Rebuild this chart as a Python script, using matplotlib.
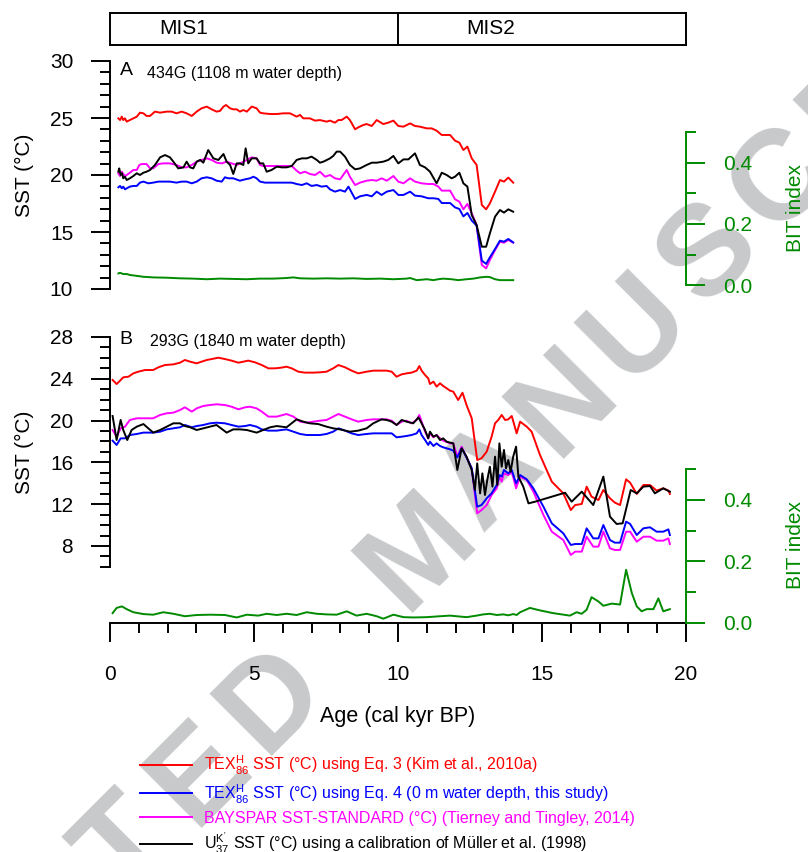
import numpy as np
import matplotlib
matplotlib.use('Agg')
import matplotlib.pyplot as plt
from matplotlib.ticker import MultipleLocator, FixedLocator, NullLocator

plt.rcParams['font.family'] = ['Liberation Sans', 'DejaVu Sans']
plt.rcParams['mathtext.fontset'] = 'custom'
plt.rcParams['mathtext.rm'] = 'Liberation Sans'
plt.rcParams['mathtext.it'] = 'Liberation Sans:italic'
plt.rcParams['mathtext.bf'] = 'Liberation Sans:bold'

# ---------------- data: core 434G (panel A) ----------------
age_a_red = [0.29, 0.35, 0.41, 0.46, 0.52, 0.58, 0.69, 0.81, 0.93, 1.04,
             1.16, 1.27, 1.39, 1.56, 1.74, 1.97, 2.14, 2.31, 2.49, 2.66,
             2.84, 3.01, 3.18, 3.36, 3.53, 3.70, 3.82, 3.94, 4.03, 4.17,
             4.28, 4.40, 4.51, 4.63, 4.75, 4.92, 5.09, 5.21, 5.32, 5.56,
             5.79, 6.02, 6.25, 6.48, 6.60, 6.71, 6.94, 7.12, 7.29, 7.52,
             7.64, 7.81, 7.93, 8.04, 8.22, 8.33, 8.51, 8.62, 8.80, 8.91,
             9.09, 9.26, 9.49, 9.66, 9.84, 10.01, 10.19, 10.42, 10.59, 10.76,
             11.0, 11.17, 11.34, 11.52, 11.69, 11.81, 11.98, 12.13, 12.27, 12.41,
             12.56, 12.73, 12.91, 13.06, 13.19, 13.37, 13.54, 13.68, 13.83, 14.0]
sst_a_red = [24.97, 24.82, 25.12, 24.82, 24.97, 24.68, 24.82, 24.97, 25.12, 25.47,
             25.41, 25.18, 25.18, 25.56, 25.47, 25.56, 25.56, 25.41, 25.56, 25.41,
             25.18, 25.56, 25.85, 26.0, 25.76, 25.56, 25.62, 26.0, 26.14, 25.85,
             25.76, 25.76, 25.56, 25.70, 25.56, 26.0, 25.85, 25.47, 25.41, 25.35,
             25.35, 25.41, 25.41, 25.12, 25.27, 24.97, 24.97, 24.77, 24.82, 24.68,
             24.77, 24.59, 24.82, 24.82, 25.12, 24.82, 24.01, 24.18, 24.39, 24.47,
             24.30, 24.82, 24.47, 24.59, 24.77, 24.30, 24.24, 24.53, 24.30, 24.24,
             24.09, 24.09, 23.89, 23.51, 23.51, 23.51, 23.01, 22.84, 22.19, 22.49,
             21.46, 20.88, 17.37, 16.99, 17.51, 18.54, 19.56, 19.42, 19.77, 19.33]

age_a_blue = [0.29, 0.35, 0.41, 0.46, 0.52, 0.58, 0.69, 0.81, 0.93, 1.04,
              1.16, 1.33, 1.50, 1.68, 1.85, 2.08, 2.31, 2.49, 2.66, 2.84,
              3.01, 3.18, 3.36, 3.53, 3.70, 3.88, 3.99, 4.11, 4.28, 4.51,
              4.69, 4.86, 4.98, 5.09, 5.21, 5.38, 5.56, 5.79, 6.13, 6.31,
              6.48, 6.66, 6.83, 7.0, 7.18, 7.35, 7.52, 7.64, 7.81, 7.99,
              8.16, 8.28, 8.51, 8.68, 8.91, 9.09, 9.26, 9.43, 9.61, 9.84,
              10.01, 10.19, 10.42, 10.59, 10.82, 11.05, 11.23, 11.40, 11.52, 11.69,
              11.81, 11.98, 12.13, 12.27, 12.41, 12.56, 12.73, 12.91, 13.06, 13.19,
              13.37, 13.54, 13.68, 13.83, 14.0]
sst_a_blue = [18.92, 19.04, 18.83, 18.98, 18.74, 18.83, 18.98, 19.04, 19.04, 19.33,
              19.42, 19.27, 19.33, 19.42, 19.42, 19.42, 19.33, 19.42, 19.42, 19.27,
              19.42, 19.71, 19.80, 19.71, 19.50, 19.42, 19.80, 19.71, 19.71, 19.50,
              19.62, 19.71, 19.85, 19.71, 19.42, 19.33, 19.33, 19.33, 19.33, 19.33,
              19.21, 19.12, 19.27, 19.04, 19.12, 18.98, 19.04, 18.74, 18.54, 18.68,
              18.54, 18.98, 17.90, 18.13, 18.25, 18.13, 18.54, 18.25, 18.54, 18.68,
              18.25, 18.25, 18.54, 18.19, 18.13, 17.96, 17.96, 17.90, 17.54, 17.54,
              17.54, 17.16, 17.02, 16.37, 16.67, 16.0, 15.56, 12.49, 12.20, 12.78,
              13.51, 14.24, 14.15, 14.39, 14.09]

age_a_mag = [0.29, 0.35, 0.41, 0.46, 0.52, 0.58, 0.69, 0.81, 0.93, 1.02,
             1.10, 1.27, 1.39, 1.50, 1.68, 1.85, 2.08, 2.31, 2.49, 2.66,
             2.84, 3.01, 3.18, 3.36, 3.53, 3.70, 3.88, 4.05, 4.22, 4.40,
             4.57, 4.75, 4.92, 5.09, 5.21, 5.32, 5.56, 5.79, 6.02, 6.31,
             6.48, 6.60, 6.77, 6.94, 7.12, 7.29, 7.47, 7.64, 7.81, 7.99,
             8.22, 8.33, 8.51, 8.68, 8.91, 9.09, 9.26, 9.43, 9.61, 9.84,
             10.01, 10.19, 10.42, 10.59, 10.82, 11.05, 11.23, 11.40, 11.52, 11.69,
             11.81, 11.98, 12.13, 12.27, 12.41, 12.56, 12.73, 12.91, 13.06, 13.19,
             13.37, 13.54, 13.68, 13.83, 14.0]
sst_a_mag = [20.15, 19.91, 20.29, 20.09, 19.91, 20.0, 20.20, 20.44, 20.44, 20.88,
             20.96, 20.96, 20.58, 20.58, 20.96, 21.02, 21.02, 20.88, 20.67, 20.67,
             20.88, 21.17, 21.32, 21.46, 21.32, 21.08, 21.02, 21.17, 21.02, 20.88,
             21.08, 21.32, 21.55, 21.46, 20.88, 20.79, 20.79, 20.79, 20.79, 20.79,
             20.38, 20.15, 20.29, 20.09, 20.0, 20.29, 19.85, 20.0, 19.71, 19.62,
             20.44, 19.85, 19.12, 19.33, 19.50, 19.56, 19.50, 19.71, 19.50, 19.91,
             19.42, 19.27, 19.71, 19.42, 19.27, 19.21, 19.21, 18.98, 18.63, 18.63,
             18.63, 17.87, 17.66, 16.99, 17.46, 16.64, 15.61, 12.11, 11.81, 12.54,
             13.42, 14.15, 14.06, 14.30, 14.06]

age_a_blk = [0.29, 0.32, 0.37, 0.42, 0.46, 0.52, 0.58, 0.69, 0.81, 0.93,
             1.04, 1.16, 1.27, 1.39, 1.56, 1.74, 1.91, 2.08, 2.20, 2.37,
             2.55, 2.66, 2.78, 2.89, 3.01, 3.13, 3.24, 3.41, 3.59, 3.76,
             3.94, 4.05, 4.17, 4.28, 4.40, 4.51, 4.63, 4.71, 4.80, 4.92,
             5.09, 5.21, 5.32, 5.44, 5.61, 5.79, 5.96, 6.13, 6.31, 6.48,
             6.66, 6.83, 7.0, 7.18, 7.29, 7.41, 7.64, 7.75, 7.87, 7.99,
             8.16, 8.33, 8.51, 8.68, 8.91, 9.09, 9.26, 9.49, 9.66, 9.84,
             10.01, 10.19, 10.36, 10.59, 10.76, 10.94, 11.11, 11.34, 11.52, 11.69,
             11.86, 11.98, 12.13, 12.27, 12.41, 12.56, 12.73, 12.91, 13.06, 13.19,
             13.37, 13.54, 13.68, 13.83, 14.0]
sst_a_blk = [20.29, 20.58, 20.0, 20.15, 19.71, 19.85, 19.56, 19.71, 19.91, 20.15,
             20.0, 20.20, 20.29, 20.44, 20.88, 21.55, 21.75, 21.55, 21.17, 20.58,
             20.67, 21.17, 20.67, 20.58, 21.17, 21.32, 21.08, 22.19, 21.46, 21.32,
             21.84, 21.17, 20.88, 20.09, 21.02, 21.02, 20.88, 22.34, 21.02, 21.46,
             21.46, 21.02, 21.02, 20.29, 20.44, 20.73, 20.67, 20.67, 20.79, 21.32,
             21.46, 21.46, 21.61, 21.32, 21.08, 21.17, 21.46, 21.67, 22.05, 22.05,
             21.61, 20.88, 20.50, 20.58, 20.88, 21.08, 21.08, 21.17, 21.32, 21.67,
             21.02, 21.37, 21.37, 21.90, 20.88, 20.67, 20.29, 19.27, 20.20, 20.0,
             19.71, 19.85, 20.20, 19.27, 18.98, 16.49, 15.61, 13.71, 13.71, 14.88,
             16.35, 16.93, 16.70, 16.99, 16.78]

age_a_bit = [0.29, 0.35, 0.46, 0.58, 0.69, 0.93, 1.16, 1.50, 1.97, 2.43,
             2.89, 3.36, 3.82, 4.28, 4.75, 5.21, 5.67, 6.13, 6.37, 6.60,
             7.06, 7.52, 7.99, 8.45, 8.91, 9.38, 9.84, 10.30, 10.42, 10.65,
             11.0, 11.23, 11.40, 11.57, 11.86, 12.09, 12.38, 12.62, 12.85, 13.08,
             13.19, 13.37, 13.54, 13.77, 14.0]
bit_a = [0.038, 0.040, 0.036, 0.036, 0.033, 0.030, 0.027, 0.025, 0.024, 0.022,
         0.021, 0.019, 0.021, 0.020, 0.019, 0.021, 0.021, 0.023, 0.025, 0.022,
         0.021, 0.022, 0.021, 0.022, 0.020, 0.021, 0.019, 0.021, 0.023, 0.016,
         0.019, 0.016, 0.019, 0.021, 0.019, 0.016, 0.019, 0.021, 0.025, 0.027,
         0.026, 0.019, 0.016, 0.016, 0.016]

# ---------------- data: core 293G (panel B) ----------------
age_b_red = [0.09, 0.23, 0.35, 0.46, 0.64, 0.81, 0.98, 1.22, 1.50, 1.68,
             1.91, 2.20, 2.43, 2.60, 2.78, 3.01, 3.18, 3.36, 3.53, 3.76,
             3.99, 4.22, 4.46, 4.63, 4.80, 5.03, 5.27, 5.50, 5.73, 5.96,
             6.13, 6.31, 6.54, 6.77, 7.06, 7.29, 7.52, 7.75, 7.93, 8.16,
             8.39, 8.62, 8.91, 9.14, 9.43, 9.61, 9.78, 9.95, 10.13, 10.30,
             10.47, 10.65, 10.74, 10.82, 10.94, 11.05, 11.11, 11.23, 11.34, 11.46,
             11.57, 11.69, 11.81, 11.92, 12.09, 12.24, 12.38, 12.56, 12.75, 12.90,
             13.08, 13.25, 13.37, 13.48, 13.60, 13.72, 13.83, 13.95, 14.12, 14.24,
             14.47, 14.64, 14.93, 15.34, 15.74, 16.0, 16.15, 16.38, 16.55, 16.72,
             16.96, 17.13, 17.36, 17.53, 17.71, 17.92, 18.06, 18.29, 18.52, 18.75,
             18.98, 19.21, 19.39, 19.44]
sst_b_red = [23.89, 23.50, 23.82, 24.14, 24.20, 24.52, 24.68, 24.84, 24.84, 25.10,
             25.32, 25.38, 25.54, 25.80, 25.64, 25.48, 25.64, 25.80, 25.89, 26.02,
             25.89, 25.74, 25.54, 25.64, 25.74, 25.58, 25.32, 25.0, 25.0, 25.07,
             25.16, 25.0, 24.68, 24.59, 24.59, 24.62, 24.68, 25.0, 25.32, 25.10,
             24.78, 24.52, 24.68, 24.78, 24.78, 24.78, 24.68, 24.20, 24.43, 24.52,
             24.59, 24.78, 25.22, 24.78, 24.36, 24.04, 23.50, 23.73, 23.25, 23.57,
             23.31, 23.09, 22.86, 22.77, 21.97, 22.67, 21.49, 20.22, 16.23, 16.39,
             17.03, 18.46, 19.74, 20.06, 20.54, 20.06, 20.12, 20.44, 18.78, 19.90,
             19.42, 18.94, 16.71, 14.16, 13.04, 11.44, 11.92, 12.02, 13.68, 12.72,
             12.40, 13.36, 12.56, 12.15, 11.92, 14.38, 14.06, 12.98, 13.84, 13.84,
             13.30, 13.52, 13.30, 12.98]

age_b_blk = [0.09, 0.23, 0.37, 0.46, 0.60, 0.75, 0.93, 1.16, 1.33, 1.50,
             1.74, 1.97, 2.20, 2.43, 2.60, 2.78, 3.01, 3.24, 3.47, 3.70,
             4.05, 4.28, 4.51, 4.75, 5.09, 5.32, 5.56, 5.79, 6.13, 6.48,
             6.71, 6.94, 7.23, 7.52, 7.75, 7.99, 8.33, 8.62, 8.91, 9.14,
             9.43, 9.61, 9.78, 9.95, 10.13, 10.30, 10.53, 10.71, 10.82, 10.94,
             11.05, 11.11, 11.23, 11.34, 11.46, 11.57, 11.69, 11.81, 11.92, 12.06,
             12.21, 12.38, 12.56, 12.67, 12.75, 12.85, 12.93, 13.02, 13.10, 13.19,
             13.28, 13.37, 13.45, 13.52, 13.60, 13.68, 13.75, 13.83, 13.91, 14.0,
             14.10, 14.18, 14.35, 14.53, 14.76, 15.34, 15.80, 16.03, 16.38, 16.78,
             17.13, 17.36, 17.59, 17.80, 18.08, 18.29, 18.52, 18.75, 18.92, 19.21,
             19.44]
sst_b_blk = [20.44, 18.14, 20.06, 19.10, 18.14, 19.10, 19.42, 19.67, 19.26, 18.85,
             19.10, 19.42, 19.74, 19.74, 19.48, 19.36, 19.10, 19.26, 19.42, 19.58,
             18.85, 19.16, 19.16, 19.10, 18.85, 19.10, 19.36, 19.48, 19.36, 20.12,
             19.90, 19.74, 19.67, 19.42, 19.26, 19.16, 18.94, 19.04, 19.26, 19.74,
             20.12, 20.06, 19.90, 19.58, 20.06, 19.90, 19.74, 20.31, 19.74, 19.10,
             18.30, 18.94, 18.46, 18.62, 18.14, 18.30, 17.98, 17.89, 17.82, 15.27,
             17.35, 16.55, 15.27, 13.36, 15.91, 13.04, 14.95, 12.88, 14.32, 15.59,
             13.68, 16.55, 13.84, 17.82, 15.59, 17.19, 15.43, 16.23, 15.11, 16.55,
             17.51, 14.64, 13.68, 12.08, 12.24, 12.72, 13.10, 12.24, 13.20, 11.92,
             14.64, 10.81, 10.11, 10.17, 13.36, 13.04, 13.68, 13.74, 13.04, 13.52,
             13.20]

age_b_gdgt = [0.09, 0.23, 0.37, 0.52, 0.69, 0.93, 1.16, 1.50, 1.74, 1.97,
              2.20, 2.43, 2.60, 2.84, 3.01, 3.24, 3.47, 3.70, 3.99, 4.22,
              4.46, 4.69, 4.86, 5.09, 5.27, 5.50, 5.79, 6.13, 6.37, 6.60,
              6.83, 7.06, 7.29, 7.52, 7.75, 7.93, 8.16, 8.39, 8.62, 8.91,
              9.14, 9.43, 9.61, 9.78, 9.95, 10.13, 10.30, 10.47, 10.65, 10.74,
              10.82, 10.94, 11.05, 11.11, 11.23, 11.34, 11.46, 11.57, 11.81, 11.92,
              12.06, 12.21, 12.38, 12.56, 12.75, 12.90, 13.08, 13.25, 13.43, 13.52,
              13.60, 13.68, 13.83, 13.95, 14.10, 14.24, 14.47, 14.70, 15.05, 15.34,
              15.74, 16.0, 16.15, 16.38, 16.55, 16.78, 16.96, 17.13, 17.36, 17.53,
              17.71, 17.92, 18.06, 18.29, 18.52, 18.75, 18.98, 19.21, 19.39, 19.44]
sst_b_mag = [19.10, 18.46, 19.26, 19.42, 20.06, 20.22, 20.22, 20.22, 20.54, 20.70,
             20.76, 21.01, 21.27, 20.86, 21.17, 21.40, 21.49, 21.56, 21.49, 21.33,
             21.08, 21.27, 21.33, 21.17, 20.86, 20.38, 20.38, 20.63, 20.38, 19.90,
             19.80, 19.90, 19.99, 20.06, 20.38, 20.63, 20.38, 20.12, 19.90, 20.06,
             20.12, 20.12, 20.12, 19.99, 19.58, 19.90, 19.99, 19.74, 20.06, 20.54,
             19.90, 18.94, 18.30, 18.78, 18.40, 18.62, 18.30, 18.08, 17.82, 17.82,
             16.55, 17.51, 16.48, 15.43, 11.13, 11.44, 11.92, 12.88, 13.52, 14.64,
             14.16, 14.95, 14.79, 15.11, 13.52, 14.64, 14.32, 13.20, 10.97, 9.37,
             8.57, 7.14, 7.46, 7.46, 8.89, 7.94, 7.94, 9.37, 7.78, 7.62,
             7.62, 9.37, 9.37, 8.41, 8.89, 8.89, 8.51, 8.51, 8.73, 8.19]
sst_b_blue = [18.08, 17.67, 18.30, 18.30, 18.62, 18.72, 18.85, 18.85, 18.94, 19.16,
              19.26, 19.36, 19.58, 19.36, 19.48, 19.58, 19.74, 19.80, 19.74, 19.58,
              19.42, 19.48, 19.58, 19.42, 19.16, 19.04, 19.04, 19.16, 18.94, 18.72,
              18.62, 18.62, 18.62, 18.72, 18.94, 19.26, 19.04, 18.78, 18.62, 18.72,
              18.78, 18.78, 18.78, 18.78, 18.40, 18.46, 18.53, 18.62, 18.78, 19.16,
              18.62, 18.14, 17.67, 17.98, 17.57, 17.82, 17.57, 17.44, 17.25, 17.12,
              16.48, 17.35, 16.48, 15.43, 11.76, 11.92, 12.56, 13.04, 13.84, 14.79,
              14.64, 15.27, 14.95, 15.27, 14.0, 14.79, 14.38, 13.52, 11.76, 10.17,
              9.21, 8.10, 8.19, 8.19, 9.69, 8.73, 8.73, 10.01, 8.57, 8.32,
              8.32, 10.33, 10.11, 9.05, 9.69, 9.79, 9.37, 9.37, 9.59, 9.05]

age_b_bit = [0.09, 0.23, 0.41, 0.58, 0.81, 1.16, 1.50, 1.85, 2.20, 2.60,
             3.01, 3.47, 3.99, 4.40, 4.75, 5.15, 5.44, 5.79, 6.13, 6.48,
             6.83, 7.18, 7.52, 7.87, 8.22, 8.56, 8.91, 9.26, 9.49, 9.84,
             10.19, 10.53, 11.0, 11.46, 11.81, 12.03, 12.38, 12.73, 12.96, 13.19,
             13.43, 13.66, 13.83, 14.0, 14.12, 14.24, 14.58, 14.93, 15.39, 15.97,
             16.20, 16.38, 16.55, 16.72, 16.96, 17.13, 17.42, 17.71, 17.92, 18.12,
             18.29, 18.46, 18.63, 18.87, 19.04, 19.21, 19.44]
bit_b = [0.032, 0.049, 0.054, 0.045, 0.035, 0.029, 0.027, 0.035, 0.030, 0.022,
         0.026, 0.027, 0.026, 0.018, 0.027, 0.024, 0.030, 0.026, 0.030, 0.026,
         0.035, 0.030, 0.028, 0.027, 0.038, 0.024, 0.030, 0.022, 0.014, 0.027,
         0.019, 0.018, 0.019, 0.022, 0.024, 0.022, 0.019, 0.024, 0.028, 0.030,
         0.026, 0.028, 0.025, 0.029, 0.026, 0.035, 0.049, 0.041, 0.032, 0.024,
         0.035, 0.030, 0.043, 0.084, 0.070, 0.056, 0.063, 0.060, 0.173, 0.097,
         0.054, 0.038, 0.045, 0.045, 0.080, 0.038, 0.045]

# marine isotope stages along the top
mis_names = ['MIS1', 'MIS2']
mis_label_x = [2.55, 13.2]
mis_boundary = 10.0

legend_labels = [r'TEX$_{86}^{\mathrm{H}}$ SST (°C) using Eq. 3 (Kim et al., 2010a)',
                 r'TEX$_{86}^{\mathrm{H}}$ SST (°C) using Eq. 4 (0 m water depth, this study)',
                 'BAYSPAR SST-STANDARD (°C) (Tierney and Tingley, 2014)',
                 r"U$_{37}^{\mathrm{K'}}$ SST (°C) using a calibration of Müller et al. (1998)"]

watermark = 'ACCEPTED MANUSCRIPT'

RED = '#ff0000'
BLUE = '#0000ff'
MAG = '#ff00ff'
BLK = '#000000'
GREEN = '#008a00'
LW = 1.4      # data lines
AXW = 1.4     # axis lines
FS = 15

W, H = 808, 852
fig = plt.figure(figsize=(W / 100, H / 100), dpi=100)


def fbox(x0, y0, x1, y1):
    # pixel box (top-left origin) -> figure fraction rect
    return [x0 / W, 1 - y1 / H, (x1 - x0) / W, (y1 - y0) / H]


def sst_axis(ax, lo, hi, major, minor_ticks):
    for s in ['top', 'right', 'bottom']:
        ax.spines[s].set_visible(False)
    ax.spines['left'].set_bounds(lo, hi)
    ax.spines['left'].set_linewidth(AXW)
    ax.yaxis.set_major_locator(FixedLocator(major))
    ax.yaxis.set_minor_locator(FixedLocator(minor_ticks))
    ax.tick_params(axis='y', which='major', direction='out', length=13.5,
                   width=AXW, labelsize=FS, pad=13)
    ax.tick_params(axis='y', which='minor', direction='out', length=7, width=AXW)
    ax.patch.set_visible(False)


def bit_axis(ax, ylim):
    for s in ['top', 'left', 'bottom']:
        ax.spines[s].set_visible(False)
    ax.spines['right'].set_bounds(0, 0.5)
    ax.spines['right'].set_color(GREEN)
    ax.spines['right'].set_linewidth(AXW)
    ax.set_ylim(*ylim)
    ax.yaxis.set_major_locator(FixedLocator([0.0, 0.2, 0.4]))
    ax.yaxis.set_minor_locator(FixedLocator([0.1, 0.3, 0.5]))
    ax.yaxis.set_major_formatter(matplotlib.ticker.FormatStrFormatter('%.1f'))
    ax.tick_params(axis='y', which='major', direction='out', length=13.5, width=AXW,
                   colors=GREEN, labelsize=FS, pad=13)
    ax.tick_params(axis='y', which='minor', direction='out', length=7, width=AXW,
                   colors=GREEN)
    ax.set_ylabel('BIT index', color=GREEN, fontsize=FS)


# watermark behind everything, letters spaced along a 45 deg line
# (only the letters that reach into the page are drawn)
step = 104.0
ang = np.deg2rad(45.5)
for i, ch in enumerate(watermark):
    px = 273 + (i - 7) * step * np.cos(ang)
    py = 700 - (i - 7) * step * np.sin(ang)
    if ch == ' ' or px < -50 or px > W + 50 or py < -50 or py > H + 50:
        continue
    fig.text(px / W, 1 - py / H, ch, rotation=45, fontsize=92, fontweight='bold',
             color='#c8c9cb', ha='center', va='center', rotation_mode='anchor',
             zorder=-10)

# ---- MIS bar ----
axm = fig.add_axes(fbox(110, 13, 686, 45))
axm.set_xlim(0, 20)
axm.set_ylim(0, 1)
axm.axvline(mis_boundary, color='k', lw=AXW)
for name, xm in zip(mis_names, mis_label_x):
    axm.text(xm, 0.5, name, ha='center', va='center', fontsize=FS)
axm.set_xticks([])
axm.set_yticks([])
for s in axm.spines.values():
    s.set_linewidth(AXW)

# ---- panel A ----
axA = fig.add_axes(fbox(110, 61, 686, 289))
axA.set_xlim(0, 20)
axA.set_ylim(10, 30)
sst_axis(axA, 10, 30, [10, 15, 20, 25, 30], list(range(10, 31)))
axA.xaxis.set_major_locator(NullLocator())
axA.plot(age_a_red, sst_a_red, color=RED, lw=LW)
axA.plot(age_a_mag, sst_a_mag, color=MAG, lw=LW)
axA.plot(age_a_blue, sst_a_blue, color=BLUE, lw=LW)
axA.plot(age_a_blk, sst_a_blk, color=BLK, lw=LW)
axA.set_ylabel('SST (°C)', fontsize=FS)
axA.yaxis.set_label_coords((34 - 110) / 576, 0.5)
axA.text(0.028, 0.957, 'A', transform=axA.transAxes, fontsize=14, ha='center', va='center')
axA.text(0.064, 0.947, '434G (1108 m water depth)', transform=axA.transAxes,
         fontsize=11.5, ha='left', va='center')

axA2 = axA.twinx()
bit_axis(axA2, (-0.013, 0.734))
axA2.xaxis.set_major_locator(NullLocator())
axA2.plot(age_a_bit, bit_a, color=GREEN, lw=LW)
axA2.yaxis.set_label_coords((786 - 110) / 576, (289 - 208) / 228)

# ---- panel B ----
axB = fig.add_axes(fbox(110, 337, 686, 623))
axB.set_xlim(0, 20)
axB.set_ylim(28 - 286 / 10.45, 28)
sst_axis(axB, 6, 28, [8, 12, 16, 20, 24, 28], list(range(6, 29)))
axB.spines['bottom'].set_visible(True)
axB.spines['bottom'].set_bounds(0, 20)
axB.spines['bottom'].set_linewidth(AXW)
axB.xaxis.set_major_locator(MultipleLocator(5))
axB.xaxis.set_minor_locator(MultipleLocator(1))
axB.tick_params(axis='x', which='major', direction='out', length=13.5, width=AXW,
                labelsize=FS, pad=17)
axB.tick_params(axis='x', which='minor', direction='out', length=7, width=AXW)
l_red, = axB.plot(age_b_red, sst_b_red, color=RED, lw=LW)
l_mag, = axB.plot(age_b_gdgt, sst_b_mag, color=MAG, lw=LW)
l_blue, = axB.plot(age_b_gdgt, sst_b_blue, color=BLUE, lw=LW)
l_blk, = axB.plot(age_b_blk, sst_b_blk, color=BLK, lw=LW)
axB.set_ylabel('SST (°C)', fontsize=FS)
axB.yaxis.set_label_coords((34 - 110) / 576, (623 - 452) / 286)
axB.set_xlabel('Age (cal kyr BP)', fontsize=15.5)
axB.xaxis.set_label_coords(0.5, (623 - 706) / 286)
axB.text(0.028, 0.993, 'B', transform=axB.transAxes, fontsize=14, ha='center', va='center')
axB.text(0.070, 0.986, '293G (1840 m water depth)', transform=axB.transAxes,
         fontsize=11.5, ha='left', va='center')

axB2 = axB.twinx()
bit_axis(axB2, (0, (623.3 - 337) / 308))
axB2.plot(age_b_bit, bit_b, color=GREEN, lw=LW)
axB2.yaxis.set_label_coords((786 - 110) / 576, (623 - 545) / 286)

# ---- legend ----
fig.legend([l_red, l_blue, l_mag, l_blk], legend_labels, loc='upper left',
           bbox_to_anchor=(140 / W, 1 - 754 / H), frameon=False, fontsize=11.5,
           handlelength=3.25, handletextpad=0.75, labelspacing=0.32,
           borderpad=0, borderaxespad=0, labelcolor='linecolor')

fig.savefig('out.png', dpi=100)
